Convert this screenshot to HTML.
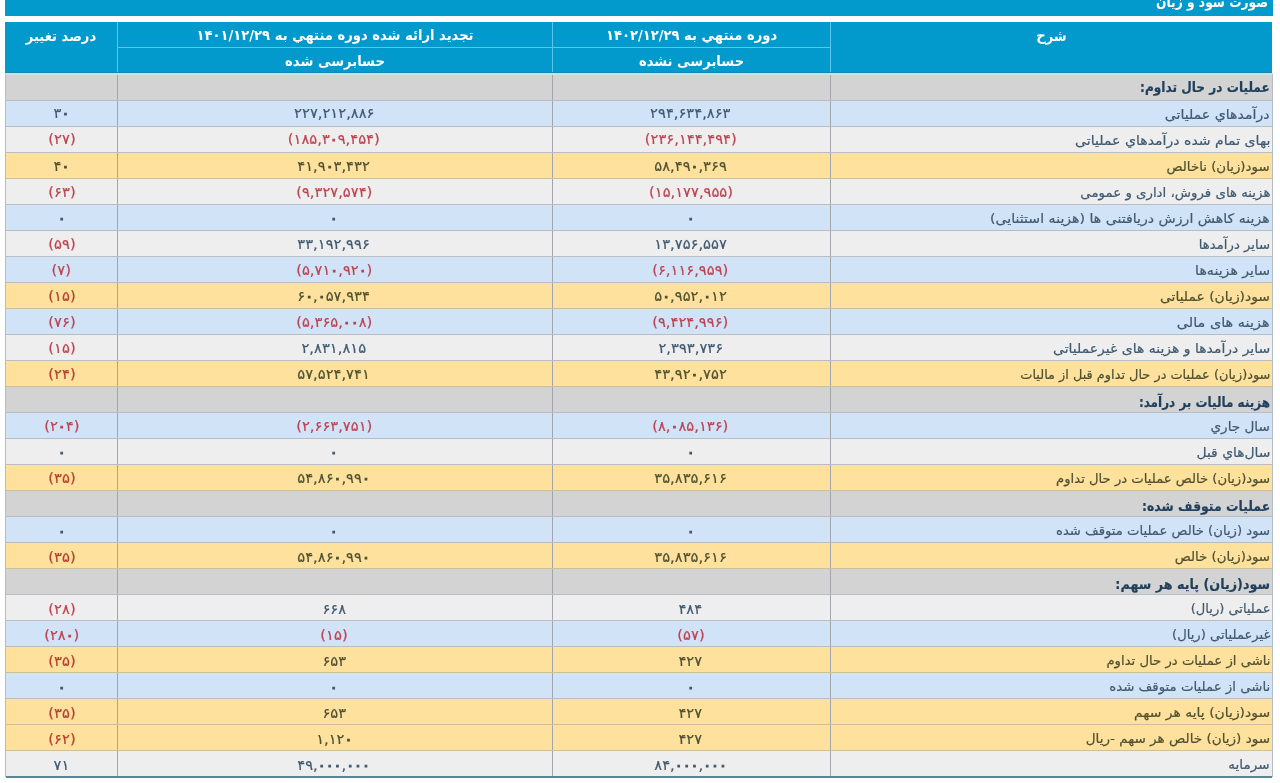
<!DOCTYPE html>
<html lang="fa"><head><meta charset="utf-8"><title>صورت سود و زیان</title>
<style>
html,body{margin:0;padding:0;background:#fff;}
body{width:1280px;height:783px;position:relative;overflow:hidden;font-family:"DejaVu Sans","Liberation Sans",sans-serif;direction:rtl;}
.title{position:absolute;left:5px;top:0;width:1268px;height:16px;background:#0299cc;overflow:hidden;}
.title span{position:absolute;right:5px;top:-8px;color:#fff;font-weight:bold;font-size:14px;line-height:20px;white-space:nowrap;transform:scaleX(.875);transform-origin:100% 50%;}
.hdr{position:absolute;left:0;top:0;}
.h{position:absolute;background:#0299cc;color:#fff;font-weight:bold;font-size:14.2px;text-align:center;box-sizing:border-box;}
.h span{display:block;white-space:nowrap;transform:scaleX(.925);filter:blur(0.3px);}
.h4{left:5px;top:22px;width:113px;height:51px;border-right:1px solid #5cc6ea;}
.h3a{left:118px;top:22px;width:435px;height:26px;border-right:1px solid #5cc6ea;border-bottom:1px solid #5cc6ea;}
.h3b{left:118px;top:48px;width:435px;height:25px;border-right:1px solid #5cc6ea;}
.h2a{left:553px;top:22px;width:278px;height:26px;border-right:1px solid #5cc6ea;border-bottom:1px solid #5cc6ea;}
.h2b{left:553px;top:48px;width:278px;height:25px;border-right:1px solid #5cc6ea;}
.h1{left:831px;top:22px;width:441px;height:51px;}
.h3a span,.h2a span{line-height:26px;}
.h3b span,.h2b span{line-height:27px;}
.h4 span,.h1 span{line-height:28px;}
.r{position:absolute;left:5px;width:1268px;box-sizing:border-box;border-bottom:1px solid #b9bdc2;border-left:1px solid #b4bcc4;border-right:1px solid #b4bcc4;}
.r.s{background:#d3d3d3;}
.r.b{background:#d1e3f7;}
.r.g{background:#eeeeee;}
.r.y{background:#fde19d;}
.c{position:absolute;top:0;bottom:0;box-sizing:border-box;font-size:14px;line-height:26px;color:#3f5a70;text-align:center;white-space:nowrap;}
.c.n{color:#be4250;}
.r.y .c{color:#4f5030;}
.r.y .c.n{color:#b5402f;}
.c4{left:0;width:112px;border-right:1px solid #a2a6aa;}
.c3{left:112px;width:435px;border-right:1px solid #a2a6aa;}
.c2{left:547px;width:278px;border-right:1px solid #a2a6aa;}
.d{left:825px;width:441px;text-align:right;padding-right:2px;font-size:13px;}
.r.s .d{font-weight:bold;color:#1f3f5c;font-size:14px;line-height:28px;}
.d span{display:inline-block;transform-origin:100% 50%;position:relative;top:1px;}
.bot{position:absolute;left:6px;top:776px;width:1266px;height:2px;background:#5a8596;}
.r.s0{border-top:2px solid #cbe0e9;}
.c span{-webkit-text-stroke:0.2px currentColor;filter:blur(0.35px);}
.c4 span,.c3 span,.c2 span{display:inline-block;transform:scaleX(1.05);position:relative;}
.c2 span,.c3 span{left:-1px;}
.r.s0 .d{line-height:22px;}
.c i{font-style:normal;-webkit-text-stroke:1.1px currentColor;}
.hl{position:absolute;left:5px;top:72px;width:1267px;height:1px;background:#1787b0;}
.r.y{border-bottom-color:#cdbf98;}

</style></head><body>
<div class="title"><span>صورت سود و زیان</span></div>
<div class="hdr">
<div class="h h4"><span>درصد تغییر</span></div>
<div class="h h3a"><span>تجدید ارائه شده دوره منتهي به ۱۴۰۱/۱۲/۲۹</span></div>
<div class="h h3b"><span>حسابرسی شده</span></div>
<div class="h h2a"><span>دوره منتهي به ۱۴۰۲/۱۲/۲۹</span></div>
<div class="h h2b"><span>حسابرسی نشده</span></div>
<div class="h h1"><span>شرح</span></div>
</div>
<div class="hl"></div>
<div class="tb">
<div class="r s s0" style="top:73px;height:28px"><div class="c c4"></div><div class="c c3"></div><div class="c c2"></div><div class="c d"><span style="transform:scaleX(0.866)">عملیات در حال تداوم:</span></div></div>
<div class="r b" style="top:101px;height:26px"><div class="c c4"><span style="top:-1px">۳<i>۰</i></span></div><div class="c c3"><span style="top:-1px">۲۲۷,۲۱۲,۸۸۶</span></div><div class="c c2"><span style="top:-1px">۲۹۴,۶۳۴,۸۶۳</span></div><div class="c d"><span style="transform:scaleX(1.085)">درآمدهاي عملیاتی</span></div></div>
<div class="r g" style="top:127px;height:26px"><div class="c c4 n"><span style="top:-1px">(۲۷)</span></div><div class="c c3 n"><span style="top:-1px">(۱۸۵,۳<i>۰</i>۹,۴۵۴)</span></div><div class="c c2 n"><span style="top:-1px">(۲۳۶,۱۴۴,۴۹۴)</span></div><div class="c d"><span style="transform:scaleX(1.083)">بهای تمام شده درآمدهاي عملیاتی</span></div></div>
<div class="r y" style="top:153px;height:26px"><div class="c c4"><span style="top:-0.5px">۴<i>۰</i></span></div><div class="c c3"><span style="top:-0.5px">۴۱,۹<i>۰</i>۳,۴۳۲</span></div><div class="c c2"><span style="top:-0.5px">۵۸,۴۹<i>۰</i>,۳۶۹</span></div><div class="c d"><span style="transform:scaleX(1.025)">سود(زیان) ناخالص</span></div></div>
<div class="r g" style="top:179px;height:26px"><div class="c c4 n"><span style="top:-0.5px">(۶۳)</span></div><div class="c c3 n"><span style="top:-0.5px">(۹,۳۲۷,۵۷۴)</span></div><div class="c c2 n"><span style="top:-0.5px">(۱۵,۱۷۷,۹۵۵)</span></div><div class="c d"><span style="transform:scaleX(1.025)">هزینه های فروش، اداری و عمومی</span></div></div>
<div class="r b" style="top:205px;height:26px"><div class="c c4 z"><span style="top:-0.5px"><i>۰</i></span></div><div class="c c3 z"><span style="top:-0.5px"><i>۰</i></span></div><div class="c c2 z"><span style="top:-0.5px"><i>۰</i></span></div><div class="c d"><span style="transform:scaleX(1.085)">هزینه کاهش ارزش دریافتنی ها (هزینه استثنایی)</span></div></div>
<div class="r g" style="top:231px;height:26px"><div class="c c4 n"><span style="top:-0.5px">(۵۹)</span></div><div class="c c3"><span style="top:-0.5px">۳۳,۱۹۲,۹۹۶</span></div><div class="c c2"><span style="top:-0.5px">۱۳,۷۵۶,۵۵۷</span></div><div class="c d"><span style="transform:scaleX(1.017)">سایر درآمدها</span></div></div>
<div class="r b" style="top:257px;height:26px"><div class="c c4 n"><span style="top:-0.5px">(۷)</span></div><div class="c c3 n"><span style="top:-0.5px">(۵,۷۱<i>۰</i>,۹۲<i>۰</i>)</span></div><div class="c c2 n"><span style="top:-0.5px">(۶,۱۱۶,۹۵۹)</span></div><div class="c d"><span style="transform:scaleX(1.085)">سایر هزینه‌ها</span></div></div>
<div class="r y" style="top:283px;height:26px"><div class="c c4 n"><span style="top:-0.5px">(۱۵)</span></div><div class="c c3"><span style="top:-0.5px">۶<i>۰</i>,<i>۰</i>۵۷,۹۳۴</span></div><div class="c c2"><span style="top:-0.5px">۵<i>۰</i>,۹۵۲,<i>۰</i>۱۲</span></div><div class="c d"><span style="transform:scaleX(1.068)">سود(زیان) عملیاتی</span></div></div>
<div class="r b" style="top:309px;height:26px"><div class="c c4 n"><span style="top:-0.5px">(۷۶)</span></div><div class="c c3 n"><span style="top:-0.5px">(۵,۳۶۵,<i>۰</i><i>۰</i>۸)</span></div><div class="c c2 n"><span style="top:-0.5px">(۹,۴۲۴,۹۹۶)</span></div><div class="c d"><span style="transform:scaleX(1.111)">هزینه های مالی</span></div></div>
<div class="r g" style="top:335px;height:26px"><div class="c c4 n"><span style="top:0px">(۱۵)</span></div><div class="c c3"><span style="top:0px">۲,۸۳۱,۸۱۵</span></div><div class="c c2"><span style="top:0px">۲,۳۹۳,۷۳۶</span></div><div class="c d"><span style="transform:scaleX(1.074)">سایر درآمدها و هزینه های غیرعملیاتی</span></div></div>
<div class="r y" style="top:361px;height:26px"><div class="c c4 n"><span style="top:0px">(۲۴)</span></div><div class="c c3"><span style="top:0px">۵۷,۵۲۴,۷۴۱</span></div><div class="c c2"><span style="top:0px">۴۳,۹۲<i>۰</i>,۷۵۲</span></div><div class="c d"><span style="transform:scaleX(0.991)">سود(زیان) عملیات در حال تداوم قبل از مالیات</span></div></div>
<div class="r s" style="top:387px;height:26px"><div class="c c4"></div><div class="c c3"></div><div class="c c2"></div><div class="c d"><span style="transform:scaleX(0.857)">هزینه مالیات بر درآمد:</span></div></div>
<div class="r b" style="top:413px;height:26px"><div class="c c4 n"><span style="top:0px">(۲<i>۰</i>۴)</span></div><div class="c c3 n"><span style="top:0px">(۲,۶۶۳,۷۵۱)</span></div><div class="c c2 n"><span style="top:0px">(۸,<i>۰</i>۸۵,۱۳۶)</span></div><div class="c d"><span style="transform:scaleX(1.044)">سال جاري</span></div></div>
<div class="r g" style="top:439px;height:26px"><div class="c c4 z"><span style="top:0px"><i>۰</i></span></div><div class="c c3 z"><span style="top:0px"><i>۰</i></span></div><div class="c c2 z"><span style="top:0px"><i>۰</i></span></div><div class="c d"><span style="transform:scaleX(1.066)">سال‌هاي قبل</span></div></div>
<div class="r y" style="top:465px;height:26px"><div class="c c4 n"><span style="top:0px">(۳۵)</span></div><div class="c c3"><span style="top:0px">۵۴,۸۶<i>۰</i>,۹۹<i>۰</i></span></div><div class="c c2"><span style="top:0px">۳۵,۸۳۵,۶۱۶</span></div><div class="c d"><span style="transform:scaleX(1.014)">سود(زیان) خالص عملیات در حال تداوم</span></div></div>
<div class="r s" style="top:491px;height:26px"><div class="c c4"></div><div class="c c3"></div><div class="c c2"></div><div class="c d"><span style="transform:scaleX(0.889)">عملیات متوقف شده:</span></div></div>
<div class="r b" style="top:517px;height:26px"><div class="c c4 z"><span style="top:0.5px"><i>۰</i></span></div><div class="c c3 z"><span style="top:0.5px"><i>۰</i></span></div><div class="c c2 z"><span style="top:0.5px"><i>۰</i></span></div><div class="c d"><span style="transform:scaleX(1.014)">سود (زیان) خالص عملیات متوقف شده</span></div></div>
<div class="r y" style="top:543px;height:26px"><div class="c c4 n"><span style="top:0.5px">(۳۵)</span></div><div class="c c3"><span style="top:0.5px">۵۴,۸۶<i>۰</i>,۹۹<i>۰</i></span></div><div class="c c2"><span style="top:0.5px">۳۵,۸۳۵,۶۱۶</span></div><div class="c d"><span style="transform:scaleX(1.025)">سود(زیان) خالص</span></div></div>
<div class="r s" style="top:569px;height:26px"><div class="c c4"></div><div class="c c3"></div><div class="c c2"></div><div class="c d"><span style="transform:scaleX(0.910)">سود(زیان) پایه هر سهم:</span></div></div>
<div class="r g" style="top:595px;height:26px"><div class="c c4 n"><span style="top:0.5px">(۲۸)</span></div><div class="c c3"><span style="top:0.5px">۶۶۸</span></div><div class="c c2"><span style="top:0.5px">۴۸۴</span></div><div class="c d"><span style="transform:scaleX(1.003)">عملیاتی (ریال)</span></div></div>
<div class="r b" style="top:621px;height:26px"><div class="c c4 n"><span style="top:0.5px">(۲۸<i>۰</i>)</span></div><div class="c c3 n"><span style="top:0.5px">(۱۵)</span></div><div class="c c2 n"><span style="top:0.5px">(۵۷)</span></div><div class="c d"><span style="transform:scaleX(1.010)">غیرعملیاتی (ریال)</span></div></div>
<div class="r y" style="top:647px;height:26px"><div class="c c4 n"><span style="top:1px">(۳۵)</span></div><div class="c c3"><span style="top:1px">۶۵۳</span></div><div class="c c2"><span style="top:1px">۴۲۷</span></div><div class="c d"><span style="transform:scaleX(1.016)">ناشی از عملیات در حال تداوم</span></div></div>
<div class="r b" style="top:673px;height:26px"><div class="c c4 z"><span style="top:1px"><i>۰</i></span></div><div class="c c3 z"><span style="top:1px"><i>۰</i></span></div><div class="c c2 z"><span style="top:1px"><i>۰</i></span></div><div class="c d"><span style="transform:scaleX(1.024)">ناشی از عملیات متوقف شده</span></div></div>
<div class="r y" style="top:699px;height:26px"><div class="c c4 n"><span style="top:1px">(۳۵)</span></div><div class="c c3"><span style="top:1px">۶۵۳</span></div><div class="c c2"><span style="top:1px">۴۲۷</span></div><div class="c d"><span style="transform:scaleX(1.070)">سود(زیان) پایه هر سهم</span></div></div>
<div class="r y" style="top:725px;height:26px"><div class="c c4 n"><span style="top:1px">(۶۲)</span></div><div class="c c3"><span style="top:1px">۱,۱۲<i>۰</i></span></div><div class="c c2"><span style="top:1px">۴۲۷</span></div><div class="c d"><span style="transform:scaleX(1.041)">سود (زیان) خالص هر سهم -ریال</span></div></div>
<div class="r g" style="top:751px;height:26px"><div class="c c4"><span style="top:1px">۷۱</span></div><div class="c c3"><span style="top:1px">۴۹,<i>۰</i><i>۰</i><i>۰</i>,<i>۰</i><i>۰</i><i>۰</i></span></div><div class="c c2"><span style="top:1px">۸۴,<i>۰</i><i>۰</i><i>۰</i>,<i>۰</i><i>۰</i><i>۰</i></span></div><div class="c d"><span style="transform:scaleX(1.042)">سرمایه</span></div></div>
</div>
<div class="bot"></div>
</body></html>
